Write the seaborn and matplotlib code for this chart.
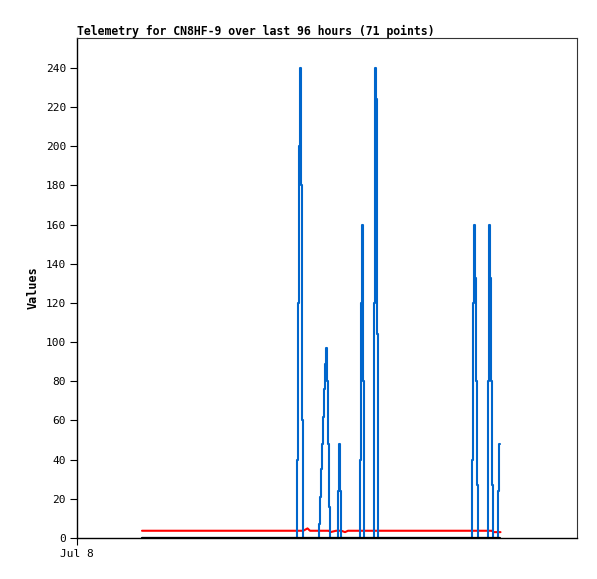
import pandas as pd
import matplotlib
matplotlib.use("Agg")
import matplotlib.pyplot as plt
import seaborn as sns

# hours since Jul 8 00:00
hours = [12.48, 42.30, 42.49, 42.68, 42.87, 43.07, 43.26, 43.45, 44.26, 44.74,
         46.52, 46.71, 46.91, 47.10, 47.29, 47.48, 47.67, 47.87, 48.06, 48.25,
         48.44, 48.63, 49.73, 50.17, 50.36, 50.55, 50.75, 51.46, 52.03,
         54.39, 54.59, 54.78, 54.97, 55.16,
         57.08, 57.27, 57.47, 57.66, 57.85,
         75.90, 76.09, 76.28, 76.47, 76.67, 76.86, 77.05,
         78.97, 79.16, 79.36, 79.55, 79.74, 79.93,
         80.89, 81.08, 81.31]

blue_vals = [0, 40, 120, 200, 240, 180, 60, 0, 0, 0,
             7, 21, 35, 48, 62, 76, 89, 97, 80, 48,
             16, 0, 0, 24, 48, 24, 0, 0, 0,
             40, 120, 160, 80, 0,
             120, 240, 224, 104, 0,
             40, 120, 160, 133, 80, 27, 0,
             80, 160, 133, 80, 27, 0,
             24, 48, 48]

red_vals = [3.7, 3.7, 3.7, 3.7, 3.7, 3.7, 3.7, 3.7, 4.9, 3.7,
            3.7, 3.7, 3.7, 3.7, 3.7, 3.7, 3.7, 3.7, 3.7, 3.7,
            3.7, 3.0, 3.7, 3.7, 3.7, 3.7, 3.7, 3.0, 3.7,
            3.7, 3.7, 3.7, 3.7, 3.7,
            3.7, 3.7, 3.7, 3.7, 3.7,
            3.7, 3.7, 3.7, 3.7, 3.7, 3.7, 3.7,
            3.7, 3.7, 3.7, 3.7, 3.7, 3.0,
            3.0, 3.0, 3.0]

black_vals = [0] * len(hours)

y_ticks = list(range(0, 241, 20))
x_tick_labels = ["Jul 8"]

df = pd.DataFrame({"hour": hours, "blue": blue_vals, "red": red_vals, "black": black_vals})

sns.set_style("white")
plt.rcParams['font.family'] = ['DejaVu Sans Mono']
plt.rcParams['text.color'] = 'black'
plt.rcParams['axes.labelcolor'] = 'black'
plt.rcParams['xtick.color'] = 'black'
plt.rcParams['ytick.color'] = 'black'

fig = plt.figure(figsize=(5.97, 5.79), dpi=100)
ax = fig.add_axes([77 / 597, 41 / 579, 500 / 597, 500 / 579])

sns.lineplot(data=df, x="hour", y="red", color="#ff0000", linewidth=1.5,
             estimator=None, ax=ax)
sns.lineplot(data=df, x="hour", y="blue", color="#0066cc", linewidth=1.5,
             estimator=None, drawstyle="steps-post", ax=ax)
sns.lineplot(data=df, x="hour", y="black", color="#000000", linewidth=1.6,
             estimator=None, ax=ax)

ax.set_xlim(0, 96)
ax.set_ylim(0, 255.3)
ax.set_yticks(y_ticks)
ax.set_yticklabels([str(v) for v in y_ticks], fontsize=8)
ax.set_xticks([0])
ax.set_xticklabels(x_tick_labels, fontsize=8)
ax.tick_params(axis="both", direction="out", length=5, width=0.8, color="black",
               labelcolor="black", left=True, bottom=True, pad=3)

for side in ["left", "bottom"]:
    ax.spines[side].set_color("black")
    ax.spines[side].set_linewidth(1.0)
for side in ["top", "right"]:
    ax.spines[side].set_color("#333333")
    ax.spines[side].set_linewidth(0.8)

ax.set_xlabel("")
ax.set_ylabel("Values", fontsize=8.5, fontweight="bold", labelpad=4, color="black")
ax.set_title("Telemetry for CN8HF-9 over last 96 hours (71 points)",
             loc="left", fontsize=8.3, fontweight="bold", pad=2, color="black")

fig.savefig("out.png", dpi=100)
plt.close(fig)
